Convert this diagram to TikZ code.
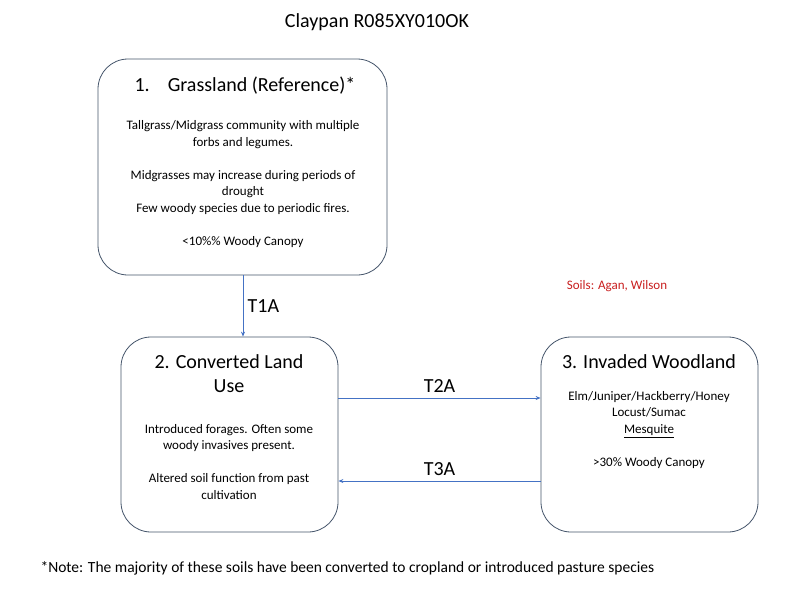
\documentclass[tikz,border=0pt]{standalone}
\usepackage{fontspec}
\setmainfont{Carlito}
\usetikzlibrary{arrows.meta,positioning}
\definecolor{boxline}{RGB}{68,84,106}
\definecolor{arrowblue}{RGB}{68,114,196}
\definecolor{soilred}{RGB}{200,30,30}
\tikzset{
  statebox/.style={draw=boxline, line width=0.8pt, rounded corners=30pt},
  headtext/.style={font=\fontsize{20}{24}\selectfont, align=center, inner sep=0pt},
  bodytext/.style={font=\fontsize{13}{16.5}\selectfont, align=center, inner sep=0pt},
  trans/.style={draw=arrowblue, line width=0.8pt, -{Stealth[length=5pt,width=4pt]}},
  translabel/.style={font=\fontsize{20}{22}\selectfont, text=black}
}
\begin{document}
\begin{tikzpicture}[x=1pt,y=-1pt]
    \useasboundingbox (0,0) rectangle (800,600);
    \node[font=\fontsize{20}{22}\selectfont] (title) at (377,22) {Claypan R085XY010OK};
    % state boxes
    \node[statebox, minimum width=289pt, minimum height=216pt] (grass) at (242.5,167) {};
    \node[statebox, minimum width=217pt, minimum height=195pt] (conv) at (229.5,434.5) {};
    \node[statebox, minimum width=217pt, minimum height=195pt] (wood) at (649.5,434.5) {};
    % box texts
    \node[headtext] (grasshead) at (245,86) {1.\hspace{0.9em}Grassland (Reference)*};
    \node[bodytext] (grassbody) at (243,184) {Tallgrass/Midgrass community with multiple\\forbs and legumes.\\ \\Midgrasses may increase during periods of\\drought\\Few woody species due to periodic fires.\\ \\<10\%\% Woody Canopy};
    \node[headtext] (convhead) at (229,374) {2. Converted Land\\Use};
    \node[bodytext] (convbody) at (229,462) {Introduced forages. Often some\\woody invasives present.\\ \\Altered soil function from past\\cultivation};
    \node[headtext] (woodhead) at (649,362) {3. Invaded Woodland};
    \node[bodytext] (woodbody) at (649,430) {Elm/Juniper/Hackberry/Honey\\Locust/Sumac\\\underline{Mesquite}\\ \\>30\% Woody Canopy};
    \node[font=\fontsize{13}{15}\selectfont, text=soilred] (soils) at (617,286) {Soils: Agan, Wilson};
    % transitions
    \draw[trans] (grass.south -| 243,0) -- (conv.north -| 243,0) node[midway, right=1pt, translabel] (t1a) {T1A};
    \draw[trans] ([yshift=36.5pt]conv.east) -- ([yshift=36.5pt]wood.west) node[midway, above=2pt, translabel] (t2a) {T2A};
    \draw[trans] ([yshift=-46.5pt]wood.west) -- ([yshift=-46.5pt]conv.east) node[midway, above=2pt, translabel] (t3a) {T3A};
    \node[font=\fontsize{15.5}{18}\selectfont, anchor=west] (note) at (37,568) {*Note: The majority of these soils have been converted to cropland or introduced pasture species};
\end{tikzpicture}
\end{document}
